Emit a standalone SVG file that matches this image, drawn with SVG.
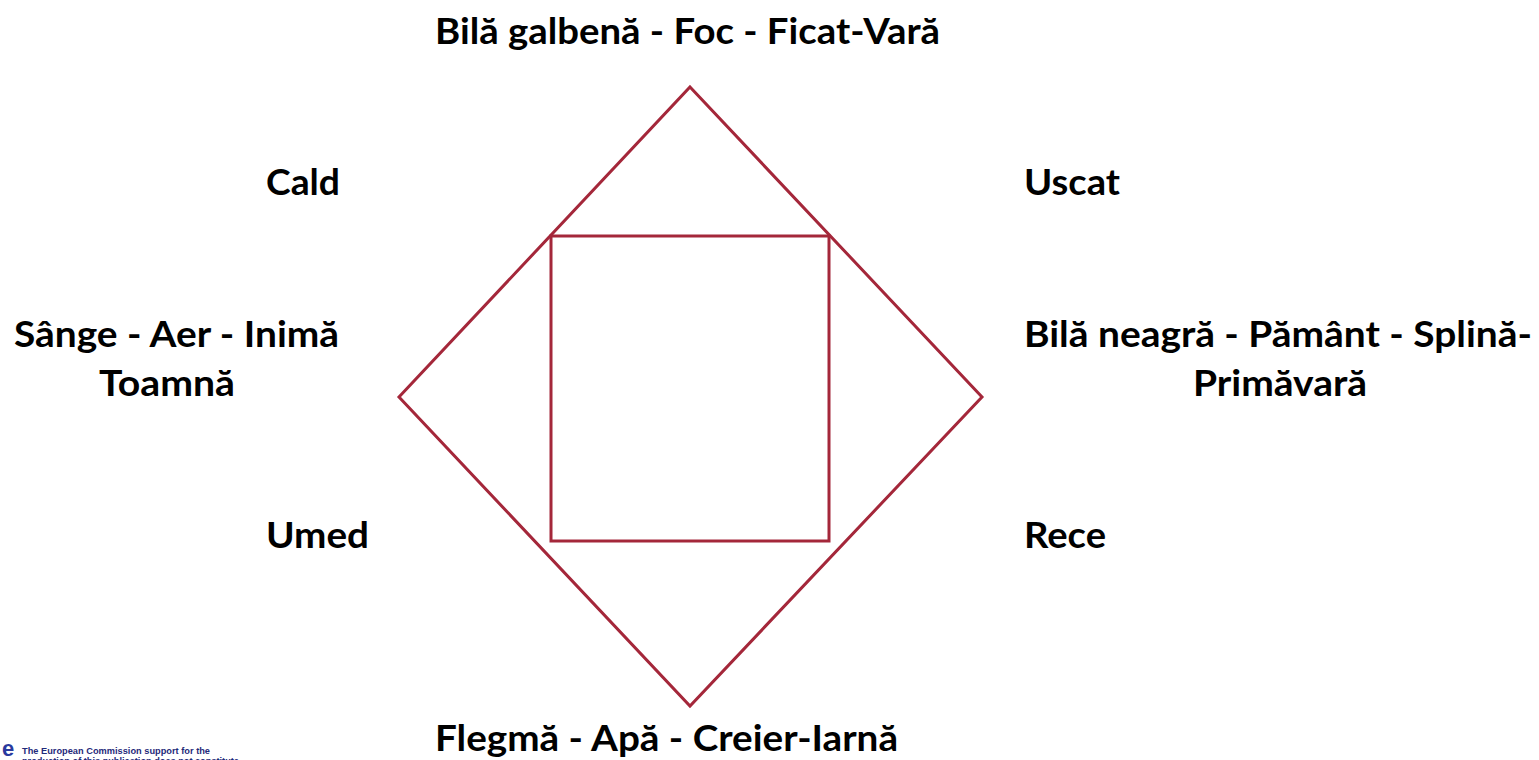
<svg xmlns="http://www.w3.org/2000/svg" width="1539" height="760" viewBox="0 0 1539 760">
<style>
.lbl{font-family:Lato,"Liberation Sans",sans-serif;font-weight:bold;font-size:37px;fill:#000}
.shape{fill:none;stroke:#A4273A;stroke-width:3;stroke-linejoin:miter}
.foot{font-family:"Liberation Sans",Arial,sans-serif;font-weight:bold;font-size:9.2px;fill:#1F2A7A}
</style>
<rect width="1539" height="760" fill="#fff"/>
<g id="connectors">
<polygon id="diamond" class="shape" points="690,87 982,397 690,706 399,397"/>
<rect id="square" class="shape" x="551" y="236" width="278" height="305"/>
</g>
<g id="node-top"><text class="lbl" x="435" y="44" textLength="505" lengthAdjust="spacingAndGlyphs">Bilă galbenă - Foc - Ficat-Vară</text></g>
<g id="node-cald"><text class="lbl" x="266" y="195" textLength="74" lengthAdjust="spacingAndGlyphs">Cald</text></g>
<g id="node-uscat"><text class="lbl" x="1024" y="195" textLength="96" lengthAdjust="spacingAndGlyphs">Uscat</text></g>
<g id="node-left">
<text class="lbl" x="14" y="347" textLength="325" lengthAdjust="spacingAndGlyphs">Sânge - Aer - Inimă</text>
<text class="lbl" x="99" y="396" textLength="136" lengthAdjust="spacingAndGlyphs">Toamnă</text>
</g>
<g id="node-right">
<text class="lbl" x="1024" y="347" textLength="508" lengthAdjust="spacingAndGlyphs">Bilă neagră - Pământ - Splină-</text>
<text class="lbl" x="1193" y="396" textLength="174" lengthAdjust="spacingAndGlyphs">Primăvară</text>
</g>
<g id="node-umed"><text class="lbl" x="266" y="548" textLength="103" lengthAdjust="spacingAndGlyphs">Umed</text></g>
<g id="node-rece"><text class="lbl" x="1024" y="548" textLength="82" lengthAdjust="spacingAndGlyphs">Rece</text></g>
<g id="node-bottom"><text class="lbl" x="435" y="751" textLength="463" lengthAdjust="spacingAndGlyphs">Flegmă - Apă - Creier-Iarnă</text></g>
<g id="footer">
<text x="2" y="756" font-family="'Liberation Sans',Arial,sans-serif" font-weight="bold" font-size="22px" fill="#2A3A9E">e</text>
<text class="foot" x="22" y="754" textLength="188" lengthAdjust="spacingAndGlyphs">The European Commission support for the</text>
<text class="foot" x="22" y="764">production of this publication does not constitute</text>
</g>
</svg>
